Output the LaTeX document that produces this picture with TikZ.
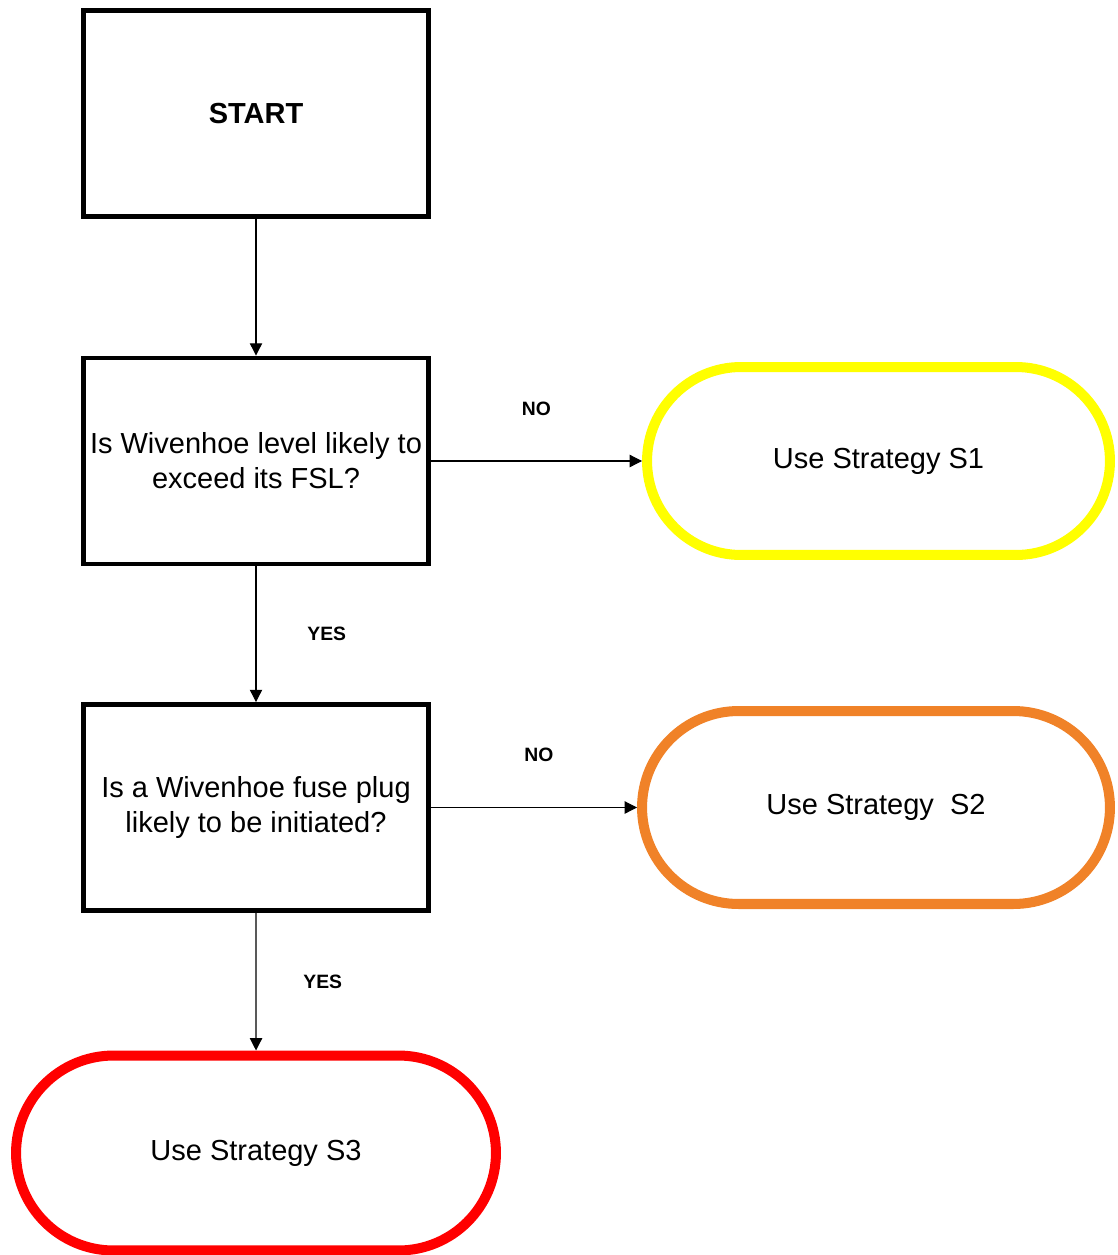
\documentclass[tikz,border=0pt]{standalone}
\usepackage{fontspec}
\setmainfont{Liberation Sans}
\usetikzlibrary{shapes.misc,arrows.meta}
\definecolor{stratone}{RGB}{255,255,0}
\definecolor{strattwo}{RGB}{240,130,40}
\definecolor{stratthree}{RGB}{255,0,0}
\tikzset{
  decision/.style={draw,line width=2.8pt,rectangle,minimum width=6.9cm,minimum height=4.12cm,inner sep=1pt,align=center,font=\fontsize{16.5}{20}\selectfont},
  strategy/.style={draw=#1,line width=5.7pt,rounded rectangle,inner sep=0pt,font=\fontsize{16.5}{20}\selectfont},
  flow/.style={-{Triangle[length=7pt,width=7pt]},line width=0.6pt},
  answer/.style={font=\fontsize{11}{13}\selectfont\bfseries}
}
\begin{document}
\begin{tikzpicture}[x=0.02cm,y=-0.02cm]
\useasboundingbox (0,0) rectangle (1117,1255);
% decisions
\node[decision,font=\fontsize{16.5}{20}\selectfont\bfseries] (start) at (256,113.5) {START};
\node[decision] (wlevel) at (256,461) {Is Wivenhoe level likely to\\exceed its FSL?};
\node[decision] (fplug) at (256,807.5) {Is a Wivenhoe fuse plug\\likely to be initiated?};
% strategies
\node[strategy=stratone,minimum width=9.26cm,minimum height=3.76cm] (sone) at (878.5,461) {Use Strategy S1};
\node[strategy=strattwo,minimum width=9.36cm,minimum height=3.86cm] (stwo) at (876,807.5) {Use Strategy\ \ S2};
\node[strategy=stratthree,minimum width=9.6cm,minimum height=3.9cm] (sthree) at (256,1153) {Use Strategy S3};
% connectors
\draw[flow] (start) -- (wlevel);
\draw[flow] (wlevel.east) -- node[answer,above=0.78cm] (noone) {NO} (sone.west);
\draw[flow] (wlevel) -- node[answer,right=0.9cm] (yesone) {YES} (fplug);
\draw[flow] (fplug.east) -- node[answer,above=0.78cm,xshift=0.1cm] (notwo) {NO} (stwo.west);
\draw[flow] (fplug) -- node[answer,right=0.82cm] (yestwo) {YES} (sthree);
\end{tikzpicture}
\end{document}
